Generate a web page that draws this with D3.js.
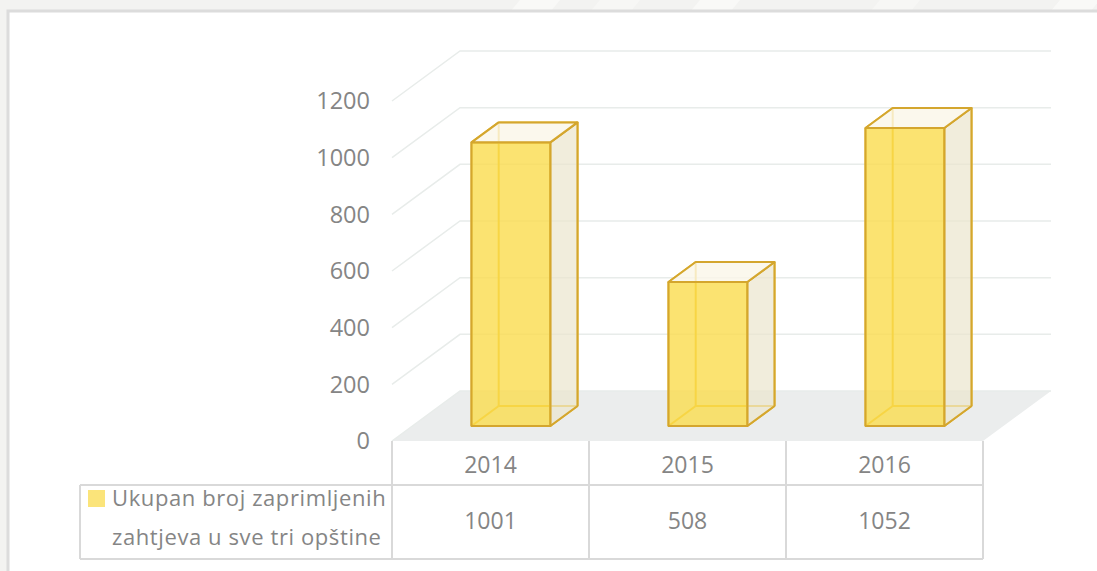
<!DOCTYPE html>
<html><head><meta charset="utf-8">
<script src="https://cdn.jsdelivr.net/npm/d3@7"></script>
<style>html,body{margin:0;padding:0;background:#f6f6f4;}svg{display:block;}</style>
</head><body>
<svg id="c" width="1097" height="571"></svg>
<script>
const categories = ["2014", "2015", "2016"];
const values = [1001, 508, 1052];
const yTicks = [0, 200, 400, 600, 800, 1000, 1200];
const seriesName = ["Ukupan broj zaprimljenih", "zahtjeva u sve tri opštine"];

const svg = d3.select("#c");
const FONT = "'Open Sans', 'Noto Sans', sans-serif";
const TXT = "#858585";
const DX = 68, DY = 50;        // depth projection
const Z0 = 0.3, Z1 = 0.7;      // bar depth range

// background strip with streaks
svg.append("rect").attr("x",0).attr("y",0).attr("width",1097).attr("height",571).attr("fill","#f3f3f1");
const streaks = [[520,0.8],[600,0.6],[700,0.8],[880,0.6],[1060,0.8]];
streaks.forEach(s=>{
  svg.append("path").attr("d",`M${s[0]},0 L${s[0]+40},0 L${s[0]+30},12 L${s[0]-10},12 Z`)
    .attr("fill","#fafaf9").attr("opacity",s[1]);
});
svg.append("rect").attr("x",8).attr("y",11).attr("width",1100).attr("height",570)
  .attr("fill","#ffffff").attr("stroke","#dcdcdc").attr("stroke-width",3);

const x = d3.scaleBand().domain(categories).range([392, 983]).paddingInner(0.6).paddingOuter(0.3);
const y = d3.scaleLinear().domain([0, 1200]).range([441, 101]);
const step = x.step();
const left = 392, right = 392 + step * categories.length;
const P = (px, v, z) => [px + z * DX, y(v) - z * DY];
const line = d3.line();

// floor
svg.append("path").attr("d", line([P(left,0,0),P(right,0,0),P(right,0,1),P(left,0,1)]) + "Z")
  .attr("fill", "#ebeded");

// gridlines: side wall diagonals and back wall horizontals
const g = svg.append("g").attr("stroke","#e8ecea").attr("stroke-width",1.5).attr("fill","none");
yTicks.forEach(t=>{
  g.append("path").attr("d", line([P(left,t,0),P(left,t,1),P(right,t,1)]));
});

// y axis labels
svg.append("g").selectAll("text").data(yTicks).join("text")
  .attr("x", 370).attr("y", d=>y(d)).attr("dy","0.35em")
  .attr("text-anchor","end").attr("font-family",FONT).attr("font-size",23.5)
  .attr("fill",TXT).text(d=>d);

// bars
const GOLD = "#d4a62e";
categories.forEach((c,i)=>{
  const v = values[i];
  const x0 = x(c), x1 = x(c) + x.bandwidth();
  const bg = svg.append("g");
  const corner = (xx, vv, zz) => P(xx, vv, zz);
  const edges = [
    [[x0,0,Z0],[x1,0,Z0]],[[x1,0,Z0],[x1,v,Z0]],[[x1,v,Z0],[x0,v,Z0]],[[x0,v,Z0],[x0,0,Z0]],
    [[x0,0,Z1],[x1,0,Z1]],[[x1,0,Z1],[x1,v,Z1]],[[x1,v,Z1],[x0,v,Z1]],[[x0,v,Z1],[x0,0,Z1]],
    [[x0,0,Z0],[x0,0,Z1]],[[x1,0,Z0],[x1,0,Z1]],[[x1,v,Z0],[x1,v,Z1]],[[x0,v,Z0],[x0,v,Z1]]
  ];
  edges.forEach(e=>{
    bg.append("path").attr("d", line(e.map(p=>corner(...p))))
      .attr("stroke","#e8b820").attr("stroke-width",2).attr("fill","none");
  });
  // right face
  bg.append("path").attr("d", line([corner(x1,0,Z0),corner(x1,0,Z1),corner(x1,v,Z1),corner(x1,v,Z0)])+"Z")
    .attr("fill","rgb(235,230,205)").attr("fill-opacity",0.7)
    .attr("stroke",GOLD).attr("stroke-width",2).attr("stroke-linejoin","round");
  // top face
  bg.append("path").attr("d", line([corner(x0,v,Z0),corner(x1,v,Z0),corner(x1,v,Z1),corner(x0,v,Z1)])+"Z")
    .attr("fill","rgb(250,246,232)").attr("fill-opacity",0.8)
    .attr("stroke",GOLD).attr("stroke-width",2).attr("stroke-linejoin","round");
  // front face
  bg.append("path").attr("d", line([corner(x0,0,Z0),corner(x1,0,Z0),corner(x1,v,Z0),corner(x0,v,Z0)])+"Z")
    .attr("fill","rgb(250,220,78)").attr("fill-opacity",0.8)
    .attr("stroke",GOLD).attr("stroke-width",2).attr("stroke-linejoin","round");
});

// data table
const TB = "#d9d9d9";
const rowTop = 441, rowMid = 485, rowBot = 559, legLeft = 80;
const tg = svg.append("g").attr("stroke",TB).attr("stroke-width",2).attr("fill","none");
d3.range(categories.length + 1).forEach(k=>{
  const xx = left + k * step;
  tg.append("line").attr("x1",xx).attr("x2",xx).attr("y1",rowTop).attr("y2",rowBot);
});
tg.append("line").attr("x1",legLeft).attr("x2",right).attr("y1",rowMid).attr("y2",rowMid);
tg.append("line").attr("x1",legLeft).attr("x2",right).attr("y1",rowBot).attr("y2",rowBot);
tg.append("line").attr("x1",legLeft).attr("x2",legLeft).attr("y1",rowMid).attr("y2",rowBot);

svg.append("g").selectAll("text").data(categories).join("text")
  .attr("x", d=>x(d)+x.bandwidth()/2).attr("y", 465).attr("dy","0.35em")
  .attr("text-anchor","middle").attr("font-family",FONT).attr("font-size",23)
  .attr("fill",TXT).text(d=>d);
svg.append("g").selectAll("text").data(values).join("text")
  .attr("x", (d,i)=>x(categories[i])+x.bandwidth()/2).attr("y", 521).attr("dy","0.35em")
  .attr("text-anchor","middle").attr("font-family",FONT).attr("font-size",23)
  .attr("fill",TXT).text(d=>d);

svg.append("rect").attr("x",88).attr("y",490).attr("width",17).attr("height",17).attr("fill","#fbe47a");
svg.append("g").selectAll("text").data(seriesName).join("text")
  .attr("x", 112).attr("y",(d,i)=>498 + i*39).attr("dy","0.35em")
  .attr("font-family",FONT).attr("font-size",22).attr("letter-spacing",0.6)
  .attr("fill",TXT).text(d=>d);
</script>
</body></html>
